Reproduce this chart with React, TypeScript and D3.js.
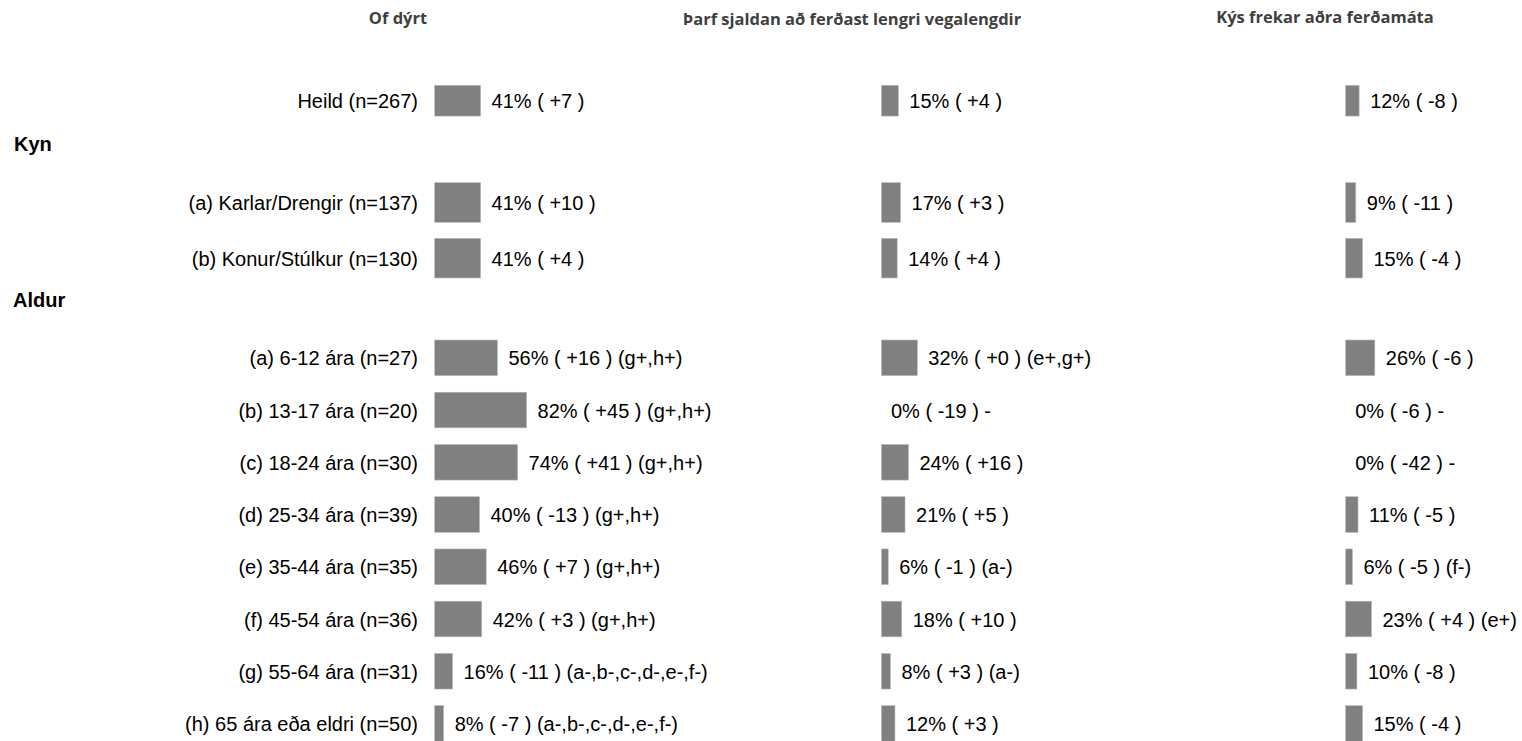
import React from "react";
import * as d3 from "d3";

const panelTitles = ["Of dýrt", "Þarf sjaldan að ferðast lengri vegalengdir", "Kýs frekar aðra ferðamáta"];
const heildLabels = ["Heild (n=267)"];
const kynLabels = ["(a) Karlar/Drengir (n=137)", "(b) Konur/Stúlkur (n=130)"];
const aldurLabels = [
  "(a) 6-12 ára (n=27)",
  "(b) 13-17 ára (n=20)",
  "(c) 18-24 ára (n=30)",
  "(d) 25-34 ára (n=39)",
  "(e) 35-44 ára (n=35)",
  "(f) 45-54 ára (n=36)",
  "(g) 55-64 ára (n=31)",
  "(h) 65 ára eða eldri (n=50)",
];
const groupHeaders = ["Kyn", "Aldur"];

// order: Heild, Karlar, Konur, a..h
const pctOfDyrt = [41, 41, 41, 56, 82, 74, 40, 46, 42, 16, 8];
const diffOfDyrt = ["+7", "+10", "+4", "+16", "+45", "+41", "-13", "+7", "+3", "-11", "-7"];
const sigOfDyrt = ["", "", "", "(g+,h+)", "(g+,h+)", "(g+,h+)", "(g+,h+)", "(g+,h+)", "(g+,h+)", "(a-,b-,c-,d-,e-,f-)", "(a-,b-,c-,d-,e-,f-)"];

const pctSjaldan = [15, 17, 14, 32, 0, 24, 21, 6, 18, 8, 12];
const diffSjaldan = ["+4", "+3", "+4", "+0", "-19", "+16", "+5", "-1", "+10", "+3", "+3"];
const sigSjaldan = ["", "", "", "(e+,g+)", "-", "", "", "(a-)", "", "(a-)", ""];

const pctAdra = [12, 9, 15, 26, 0, 0, 11, 6, 23, 10, 15];
const diffAdra = ["-8", "-11", "-4", "-6", "-6", "-42", "-5", "-5", "+4", "-8", "-4"];
const sigAdra = ["", "", "", "", "-", "-", "", "(f-)", "(e+)", "", ""];

const W = 1522;
const H = 741;

const panels = [
  { title: panelTitles[0], pct: pctOfDyrt, diff: diffOfDyrt, sig: sigOfDyrt, x0: 434.7, titleX: 398, titleY: 24 },
  { title: panelTitles[1], pct: pctSjaldan, diff: diffSjaldan, sig: sigSjaldan, x0: 881.5, titleX: 852, titleY: 25 },
  { title: panelTitles[2], pct: pctAdra, diff: diffAdra, sig: sigAdra, x0: 1345.7, titleX: 1325, titleY: 23 },
];

function bandFor(keys: string[], top: number, step: number, barH: number) {
  const pi = (step - barH) / step;
  return d3
    .scaleBand<string>()
    .domain(keys)
    .range([top, top + keys.length * step - (step - barH)])
    .paddingInner(pi)
    .paddingOuter(0);
}

export default function App() {
  const heildBand = bandFor(heildLabels, 80.7, 52, 40);
  const kynBand = bandFor(kynLabels, 182.7, 55.7, 39.6);
  const aldurBand = bandFor(aldurLabels, 340, 52.24, 35.6);

  const rows = [
    ...heildLabels.map((l) => ({ label: l, y: heildBand(l)!, h: heildBand.bandwidth() })),
    ...kynLabels.map((l) => ({ label: l, y: kynBand(l)!, h: kynBand.bandwidth() })),
    ...aldurLabels.map((l) => ({ label: l, y: aldurBand(l)!, h: aldurBand.bandwidth() })),
  ];

  const x = d3.scaleLinear().domain([0, 100]).range([0, 112]);
  const labelRight = 418;
  const font = "'Liberation Sans', Arial, sans-serif";

  return (
    <svg
      width={W}
      height={H}
      style={{ position: "absolute", left: 0, top: 0, display: "block", background: "#fff" }}
    >
      {panels.map((p, pi) => (
        <text
          key={"t" + pi}
          x={p.titleX}
          y={p.titleY}
          textAnchor="middle"
          fontFamily="'Open Sans', sans-serif"
          fontWeight="bold"
          fontSize={16.5}
          fill="#3f3f3f"
        >
          {p.title}
        </text>
      ))}
      <text x={14} y={151} fontFamily={font} fontWeight="bold" fontSize={20} fill="#000">
        {groupHeaders[0]}
      </text>
      <text x={13} y={307} fontFamily={font} fontWeight="bold" fontSize={20} fill="#000">
        {groupHeaders[1]}
      </text>
      {rows.map((r, i) => (
        <text
          key={"l" + i}
          x={labelRight}
          y={r.y + r.h / 2 + 7.5}
          textAnchor="end"
          fontFamily={font}
          fontSize={20}
          fill="#000"
        >
          {r.label}
        </text>
      ))}
      {panels.map((p, pi) =>
        rows.map((r, i) => {
          const w = x(p.pct[i]);
          const txt = `${p.pct[i]}% ( ${p.diff[i]} )` + (p.sig[i] ? ` ${p.sig[i]}` : "");
          return (
            <g key={`b${pi}-${i}`}>
              {w > 0 && (
                <rect x={p.x0} y={r.y} width={w} height={r.h} fill="#808080" stroke="#b8b8b8" strokeWidth={0.6} />
              )}
              <text
                x={p.x0 + w + (w > 0 ? 11 : 9.5)}
                y={r.y + r.h / 2 + 7.5}
                fontFamily={font}
                fontSize={20}
                fill="#000"
              >
                {txt}
              </text>
            </g>
          );
        })
      )}
    </svg>
  );
}
